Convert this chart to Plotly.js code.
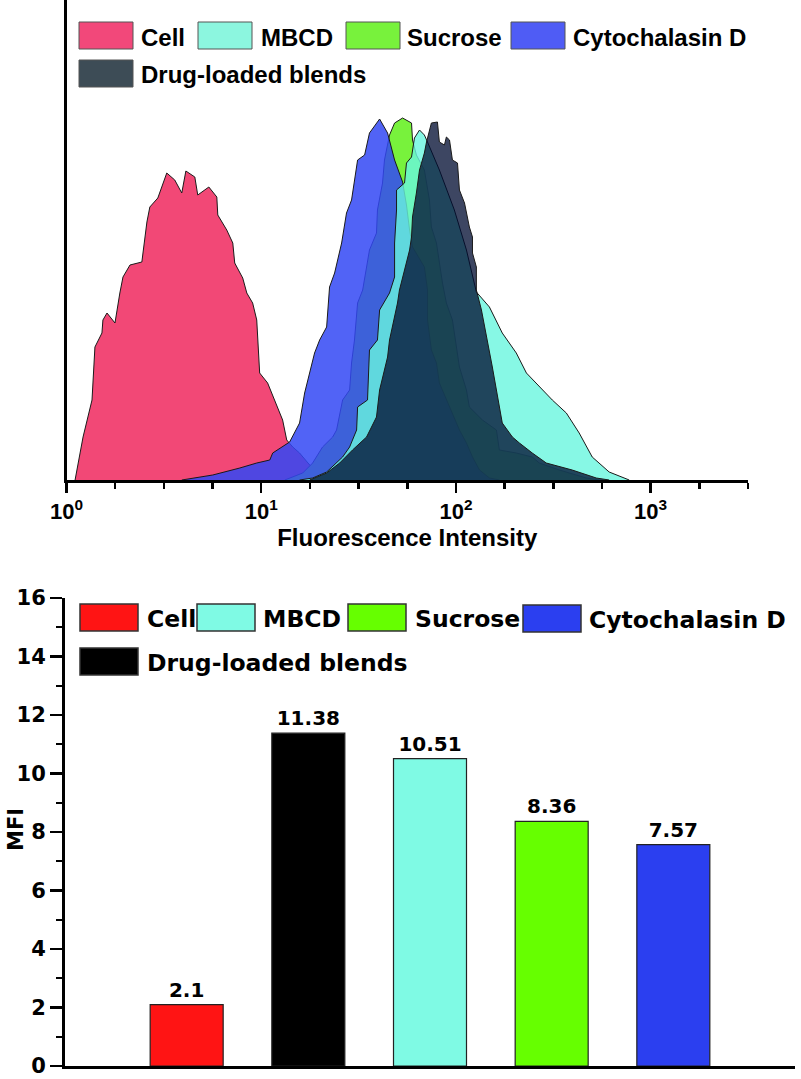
<!DOCTYPE html>
<html><head><meta charset="utf-8">
<script src="https://cdn.plot.ly/plotly-3.0.1.min.js"></script>
<style>html,body{margin:0;padding:0;background:#fff}#chart{width:801px;height:1079px}</style>
</head><body><div id="chart"></div>
<script>
// ---------- Top panel: flow cytometry histograms ----------
// x values are log10(fluorescence intensity), y values are relative event counts
const histNames = ['Cell', 'MBCD', 'Sucrose', 'Cytochalasin D', 'Drug-loaded blends'];
const histLegendColors = ['#f2487a', '#8cf6df', '#78f23c', '#4f5cf5', '#3d4c56'];

const cellLogFI = [0.044,0.085,0.131,0.136,0.146,0.182,0.187,0.208,0.249,0.274,0.290,0.326,0.387,0.413,0.428,0.469,0.515,0.556,0.592,0.613,0.659,0.674,0.731,0.772,0.777,0.823,0.854,0.864,0.905,0.926,0.956,0.977,0.992,1.033,1.110,1.131,1.162,1.197,1.249,1.351];
const cellCounts = [0,43,80,103,133,147,160,167,157,187,203,215,218,258,273,282,307,300,287,309,303,285,293,283,265,250,237,217,202,187,177,160,107,97,60,40,33,27,15,0];

const cytoLogFI = [0.592,0.751,0.890,0.977,1.044,1.059,1.146,1.197,1.223,1.249,1.274,1.300,1.336,1.351,1.377,1.413,1.438,1.464,1.495,1.531,1.556,1.608,1.649,1.685,1.726,1.746,1.762,1.777,1.838,1.854,1.854,1.874,1.900,1.915,1.951,1.982,2.018,2.054,2.085,2.121,2.172,2.223];
const cytoCounts = [0,5,12,17,20,27,38,57,87,107,127,140,153,193,207,237,267,280,320,325,347,361,347,320,298,275,250,233,213,190,160,130,117,97,80,67,50,37,23,10,2,0];

const sucroseLogFI = [1.121,1.213,1.264,1.315,1.367,1.387,1.418,1.454,1.464,1.479,1.495,1.521,1.556,1.592,1.597,1.623,1.633,1.659,1.685,1.726,1.772,1.777,1.797,1.838,1.864,1.874,1.900,1.915,1.931,1.951,1.982,2.018,2.054,2.069,2.136,2.208,2.223,2.310,2.392,2.428,2.531,2.669,2.736];
const sucroseCounts = [0,7,17,33,43,50,80,90,117,140,177,190,230,247,270,297,320,345,357,362,357,340,325,310,280,253,237,217,197,177,160,113,90,73,60,50,30,27,23,17,10,2,0];

const mbcdLogFI = [1.197,1.264,1.336,1.418,1.454,1.490,1.495,1.546,1.556,1.597,1.608,1.659,1.685,1.685,1.695,1.695,1.736,1.746,1.772,1.787,1.813,1.838,1.854,1.915,1.992,2.054,2.105,2.172,2.238,2.310,2.362,2.413,2.495,2.567,2.633,2.700,2.787,2.890];
const mbcdCounts = [0,2,8,23,33,50,73,80,130,140,170,187,203,237,270,290,297,317,323,342,350,345,338,310,270,230,188,173,147,127,107,97,80,67,47,23,8,0];

const drugLogFI = [1.249,1.336,1.403,1.469,1.541,1.592,1.608,1.649,1.659,1.700,1.710,1.762,1.772,1.777,1.797,1.813,1.838,1.849,1.874,1.905,1.915,1.941,1.951,1.967,1.982,2.008,2.018,2.044,2.069,2.085,2.085,2.105,2.105,2.131,2.187,2.208,2.238,2.290,2.326,2.392,2.464,2.597,2.721,2.787];
const drugCounts = [0,7,17,30,43,63,90,123,140,177,190,230,243,263,287,310,327,338,357,358,338,335,343,340,320,317,290,277,253,243,227,213,190,170,113,90,57,43,37,27,17,10,2,0];

const decadeTickLabels = ['10<sup>0</sup>', '10<sup>1</sup>', '10<sup>2</sup>', '10<sup>3</sup>'];

// ---------- Bottom panel: MFI bar chart ----------
const barCategories = ['Cell', 'Drug-loaded blends', 'MBCD', 'Sucrose', 'Cytochalasin D'];
const barValues = [2.1, 11.38, 10.51, 8.36, 7.57];
const barColors = ['#ff1414', '#000000', '#7ffae4', '#66ff00', '#2b3ff0'];
const barLegendOrder = ['Cell', 'MBCD', 'Sucrose', 'Cytochalasin D', 'Drug-loaded blends'];

// ---------- build ----------
const W = 801, H = 1079;
const toX = v => v / W, toY = v => 1 - v / H;
const pow10 = arr => arr.map(v => Math.pow(10, v));

const fillStyles = {
  'Cell': 'rgba(242,72,118,1)',
  'Sucrose': 'rgba(120,242,60,1)',
  'Cytochalasin D': 'rgba(50,72,245,0.85)',
  'MBCD': 'rgba(105,246,222,0.8)',
  'Drug-loaded blends': 'rgba(0,12,48,0.76)'
};
const histData = {
  'Cell': [cellLogFI, cellCounts],
  'Sucrose': [sucroseLogFI, sucroseCounts],
  'Cytochalasin D': [cytoLogFI, cytoCounts],
  'MBCD': [mbcdLogFI, mbcdCounts],
  'Drug-loaded blends': [drugLogFI, drugCounts]
};
const drawOrder = ['Cell', 'Sucrose', 'Cytochalasin D', 'MBCD', 'Drug-loaded blends'];
const traces = drawOrder.map(name => ({
  type: 'scatter', mode: 'lines', name: name,
  x: pow10(histData[name][0]), y: histData[name][1],
  fill: 'tozeroy', fillcolor: fillStyles[name],
  line: {color: '#1a1a1a', width: 1}, xaxis: 'x', yaxis: 'y', hoverinfo: 'skip'
}));

traces.push({
  type: 'bar', x: barCategories, y: barValues, xaxis: 'x2', yaxis: 'y2',
  width: 0.6, marker: {color: barColors, line: {color: '#222', width: 1.2}},
  text: barValues.map(String), textposition: 'outside', cliponaxis: false, constraintext: 'none',
  textfont: {family: 'DejaVu Sans', size: 20, color: '#000', weight: 700}, hoverinfo: 'skip'
});

const majorVals = [1, 10, 100, 1000];
const minorVals = [];
for (let k = 1; k <= 14; k++) if (k % 4 !== 0) minorVals.push(Math.pow(10, k / 4));

const topFont = {family: 'Liberation Sans, Arial, sans-serif', color: '#000', weight: 700};
const botFont = {family: 'DejaVu Sans, Verdana, sans-serif', color: '#000', weight: 700};

const shapes = [], annotations = [];
// top legend
const topLegPos = {
  'Cell': [79, 22, 141], 'MBCD': [198, 22, 261], 'Sucrose': [346, 22, 407],
  'Cytochalasin D': [511, 22, 573], 'Drug-loaded blends': [79, 60, 141]
};
histNames.forEach((n, i) => {
  const p = topLegPos[n];
  shapes.push({type: 'rect', xref: 'paper', yref: 'paper', x0: toX(p[0]), x1: toX(p[0] + 54),
    y0: toY(p[1]), y1: toY(p[1] + 27), fillcolor: histLegendColors[i], line: {color: '#555', width: 1}});
  annotations.push({xref: 'paper', yref: 'paper', x: toX(p[2] - 2), y: toY(p[1] + 15), text: n,
    showarrow: false, xanchor: 'left', yanchor: 'middle', font: Object.assign({size: 24}, topFont)});
});
// bottom legend
const botLegPos = {
  'Cell': [80, 604, 147], 'MBCD': [197, 604, 263], 'Sucrose': [348, 604, 415],
  'Cytochalasin D': [523, 605, 589], 'Drug-loaded blends': [80, 648, 147]
};
barLegendOrder.forEach(n => {
  const p = botLegPos[n];
  const c = barColors[barCategories.indexOf(n)];
  shapes.push({type: 'rect', xref: 'paper', yref: 'paper', x0: toX(p[0]), x1: toX(p[0] + 58),
    y0: toY(p[1]), y1: toY(p[1] + 27), fillcolor: c, line: {color: '#333', width: 1.5}});
  annotations.push({xref: 'paper', yref: 'paper', x: toX(p[2] - 2), y: toY(p[1] + 15), text: n,
    showarrow: false, xanchor: 'left', yanchor: 'middle', font: Object.assign({size: 23.5}, botFont)});
});
annotations.push({xref: 'paper', yref: 'paper', x: toX(16), y: toY(830), text: 'MFI', textangle: -90,
  showarrow: false, xanchor: 'center', yanchor: 'middle', font: Object.assign({size: 21}, botFont)});

const layout = {
  width: W, height: H, margin: {l: 0, r: 0, t: 0, b: 0},
  paper_bgcolor: '#fff', plot_bgcolor: 'rgba(0,0,0,0)', showlegend: false,
  xaxis: {
    type: 'log', range: [0, 3.5], domain: [toX(66.5), toX(748)], anchor: 'y',
    showline: true, linewidth: 3, linecolor: '#000', mirror: false,
    ticks: 'outside', ticklen: 10, tickwidth: 2.5, tickcolor: '#000',
    tickmode: 'array', tickvals: majorVals, ticktext: decadeTickLabels,
    tickfont: Object.assign({size: 22}, topFont),
    minor: {tickmode: 'array', tickvals: minorVals, ticks: 'outside', ticklen: 6, tickwidth: 2.5, tickcolor: '#000', showgrid: false},
    showgrid: false, zeroline: false,
    title: {text: 'Fluorescence Intensity', font: Object.assign({size: 24}, topFont), standoff: 2}
  },
  yaxis: {
    range: [0, 480], domain: [1 - 480 / H, 1], anchor: 'x',
    showline: true, linewidth: 2.5, linecolor: '#000', ticks: '', showticklabels: false,
    showgrid: false, zeroline: false
  },
  xaxis2: {
    type: 'category', range: [-1, 5], domain: [toX(65), toX(795)], anchor: 'y2',
    showline: true, linewidth: 3, linecolor: '#000', ticks: '', showticklabels: false,
    showgrid: false, zeroline: false
  },
  yaxis2: {
    range: [0, 16], domain: [13 / H, 481 / H], anchor: 'x2',
    showline: true, linewidth: 3, linecolor: '#000',
    ticks: 'outside', ticklen: 12, tickwidth: 2.5, tickcolor: '#000', dtick: 2, tick0: 0,
    tickfont: Object.assign({size: 21}, botFont),
    minor: {dtick: 1, ticks: 'outside', ticklen: 6, tickwidth: 2, tickcolor: '#000', showgrid: false},
    showgrid: false, zeroline: false
  },
  shapes: shapes, annotations: annotations
};

Plotly.newPlot('chart', traces, layout, {displayModeBar: false, staticPlot: true});
</script></body></html>
